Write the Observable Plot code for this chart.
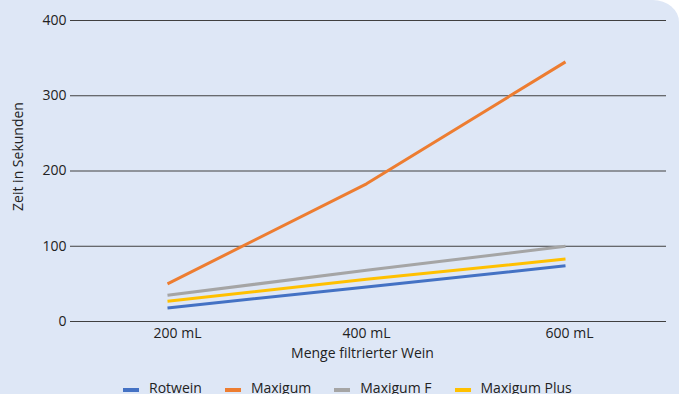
<!DOCTYPE html>
<html><head><meta charset="utf-8">
<script src="https://cdn.jsdelivr.net/npm/d3@7"></script>
<script src="https://cdn.jsdelivr.net/npm/@observablehq/plot@0.6"></script>
<style>
body{margin:0;background:#fff;}
#card{width:679px;height:394px;background:#dee7f6;overflow:hidden;border-top-right-radius:26px 22px;font-family:"Open Sans",sans-serif;color:#222;position:relative}
#chart svg{display:block}
#legend{display:flex;margin-left:123px;margin-top:6px;gap:23px;font-size:14px;line-height:19px;white-space:nowrap}
.item{display:flex;align-items:center;gap:10px}
.sw{width:16px;height:4px;transform:translateY(2px)}
</style></head><body><div id="card"><div id="chart"></div><div id="legend"></div></div>
<script>
const categories = ["200 mL", "400 mL", "600 mL"];
const seriesNames = ["Rotwein", "Maxigum", "Maxigum F", "Maxigum Plus"];
const rotwein = [18, 46, 74];
const maxigum = [50, 183, 345];
const maxigumF = [35, 68, 100];
const maxigumPlus = [27, 56, 83];
const yTicks = [0, 100, 200, 300, 400];
const colors = ["#4472c4", "#ed7d31", "#a5a5a5", "#ffc000"];
const yTitle = "Zeit in Sekunden";
const xTitle = "Menge filtrierter Wein";

// layout only: horizontal nudge of each category tick label
const tickLabelNudge = [10, 0, 4];

const seriesValues = [rotwein, maxigum, maxigumF, maxigumPlus];
const rows = seriesNames.flatMap((s, i) => categories.map((c, j) => ({series: s, cat: c, value: seriesValues[i][j]})));

const plot = Plot.plot({
  width: 679, height: 372,
  marginLeft: 70, marginRight: 13, marginTop: 20, marginBottom: 51,
  style: {fontFamily: '"Open Sans", sans-serif', fontSize: "14px", color: "#222", background: "transparent", overflow: "visible"},
  x: {type: "point", domain: categories, range: [167, 565], padding: 0, label: null},
  y: {domain: [0, 400], label: null},
  color: {domain: seriesNames, range: colors},
  marks: [
    Plot.ruleY(yTicks, {stroke: "#404040", strokeWidth: 1}),
    Plot.axisY({ticks: yTicks, tickSize: 0, tickPadding: 4, label: null}),
    ...categories.map((c, i) => Plot.axisX({ticks: [c], tickSize: 0, tickPadding: 7, label: null, dx: tickLabelNudge[i]})),
    Plot.line(rows, {x: "cat", y: "value", z: "series", stroke: "series", strokeWidth: 3, strokeLinecap: "butt", strokeLinejoin: "round"}),
    Plot.text([yTitle], {text: d => d, frameAnchor: "left", textAnchor: "middle", rotate: -90, dx: -52, dy: -14.5}),
    Plot.text([xTitle], {text: d => d, frameAnchor: "bottom", dx: -6, dy: 36.5})
  ]
});
document.getElementById("chart").appendChild(plot);

const legend = document.getElementById("legend");
seriesNames.forEach((s, i) => {
  const item = document.createElement("div");
  item.className = "item";
  const sw = document.createElement("span");
  sw.className = "sw";
  sw.style.background = colors[i];
  const t = document.createElement("span");
  t.textContent = s;
  item.appendChild(sw); item.appendChild(t);
  legend.appendChild(item);
});
</script>
</body></html>
